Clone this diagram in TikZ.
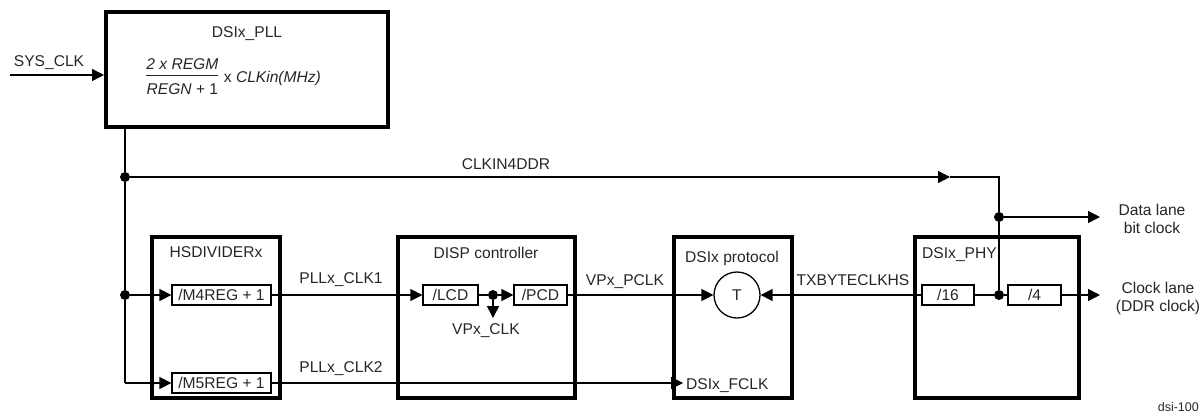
\documentclass[tikz,border=0pt]{standalone}
\usepackage{amsmath}
\usepackage{fontspec}
\setmainfont{Liberation Sans}
\usetikzlibrary{arrows.meta}
\colorlet{txt}{black!85}
\newcommand{\lblfont}{\fontsize{15.6}{18}\selectfont}

\begin{document}
\begin{tikzpicture}[x=1pt, y=-1pt,
				blockbox/.style={draw, line width=4pt, inner sep=0pt},
				divbox/.style={draw, line width=1.3pt, inner sep=0pt, minimum height=20pt, font=\lblfont, text=txt},
				junction/.style={circle, fill=black, inner sep=0pt, minimum size=10pt},
				wire/.style={line width=1.4pt},
				sig/.style={wire, -{Triangle[length=12pt,width=12pt]}},
				lbl/.style={font=\lblfont, text=txt, inner sep=0pt}
				]
				
				\useasboundingbox (0,0) rectangle (1204,413);
				
				% big blocks
				\node[blockbox, minimum width=282pt, minimum height=115pt] (pll) at (247, 69.5) {};
				\node[blockbox, minimum width=128pt, minimum height=161pt] (hsdiv) at (216, 317.5) {};
				\node[blockbox, minimum width=177pt, minimum height=161pt] (disp) at (486.5, 317.5) {};
				\node[blockbox, minimum width=118pt, minimum height=161pt] (proto) at (733, 317.5) {};
				\node[blockbox, minimum width=164pt, minimum height=161pt] (phy) at (997, 317.5) {};
				
				\node[lbl, anchor=base] at (247, 37) {DSIx\_PLL};
				\node[lbl, anchor=base west] (formula) at (145, 82)
					{\raisebox{3pt}{$\genfrac{}{}{1.2pt}{0}{\text{\itshape 2 x REGM}}{\rule{0pt}{15pt}\text{\itshape REGN}\text{ + 1}}$} x \textit{CLKin(MHz)}};
				\node[lbl, anchor=base] at (216, 257) {HSDIVIDERx};
				\node[lbl, anchor=base] at (486, 258) {DISP controller};
				\node[lbl, anchor=base] at (732, 262) {DSIx protocol};
				\node[lbl, anchor=base west] at (922, 258) {DSIx\_PHY};
				
				% dividers
				\node[divbox, minimum width=99pt] (m4) at (221.5, 295) {/M4REG + 1};
				\node[divbox, minimum width=99pt] (m5) at (221.5, 383) {/M5REG + 1};
				\node[divbox, minimum width=55pt] (lcd) at (450.5, 295) {/LCD};
				\node[divbox, minimum width=53pt] (pcd) at (540.5, 295) {/PCD};
				\node[divbox, minimum width=52pt] (d16) at (948, 295) {/16};
				\node[divbox, minimum width=53pt] (d4) at (1034.5, 295) {/4};
				\node[circle, draw, line width=1.3pt, minimum size=46pt, inner sep=0pt, font=\lblfont, text=txt] (tgen) at (737, 295) {T};
				
				% junctions
				\node[junction] (j1) at (125, 177) {};
				\node[junction] (j2) at (125, 295) {};
				\node[junction] (jlcd) at (493, 295) {};
				\node[junction] (jphy) at (999, 295) {};
				\node[junction] (jdata) at (999, 217) {};
				
				\coordinate (sysin) at (10, 75);
				\coordinate (bend) at (125, 383);
				\coordinate (ddrtip) at (950, 177);
				\coordinate (ddrcorner) at (999, 177);
				\coordinate (vpdown) at (493, 318);
				\coordinate (fclktip) at (683, 383);
				\coordinate (dataout) at (1100, 217);
				\coordinate (clkout) at (1100, 295);
				
				% connections
				\draw[sig] (sysin) -- (sysin -| pll.west);
				\draw[wire] (pll.south -| j1) -- (j1) -- (j2) -- (bend);
				\draw[sig] (bend) -- (m5.west);
				\draw[sig] (j2) -- (m4.west);
				\draw[sig] (j1) -- (ddrtip);
				\draw[wire] (ddrtip) -- (ddrcorner) -- (jdata) -- (jphy);
				\draw[sig] (jdata) -- (dataout);
				\draw[sig] (m4.east) -- (lcd.west);
				\draw[wire] (lcd.east) -- (jlcd);
				\draw[sig] (jlcd) -- (pcd.west);
				\draw[sig] (jlcd) -- (vpdown);
				\draw[sig] (pcd.east) -- (tgen.west);
				\draw[sig] (d16.west) -- (tgen.east);
				\draw[wire] (d16.east) -- (jphy) -- (d4.west);
				\draw[sig] (d4.east) -- (clkout);
				\draw[sig] (m5.east) -- (fclktip);
				
				% signal names
				\node[lbl, anchor=base] at (49, 66) {SYS\_CLK};
				\node[lbl, anchor=base] at (506, 169) {CLKIN4DDR};
				\node[lbl, anchor=base] at (341, 283) {PLLx\_CLK1};
				\node[lbl, anchor=base] at (341, 372) {PLLx\_CLK2};
				\node[lbl, anchor=base] at (486, 334) {VPx\_CLK};
				\node[lbl, anchor=base] at (625, 285) {VPx\_PCLK};
				\node[lbl, anchor=base] at (853, 285) {TXBYTECLKHS};
				\node[lbl, anchor=base west] at (686, 389) {DSIx\_FCLK};
				\node[lbl, align=center] at (1152, 219) {Data lane\\bit clock};
				\node[lbl, align=center] at (1158, 298) {Clock lane\\(DDR clock)};
				\node[lbl, anchor=base east, font=\fontsize{12.5}{14}\selectfont] at (1199, 411) {dsi-100};
			\end{tikzpicture}
\end{document}
